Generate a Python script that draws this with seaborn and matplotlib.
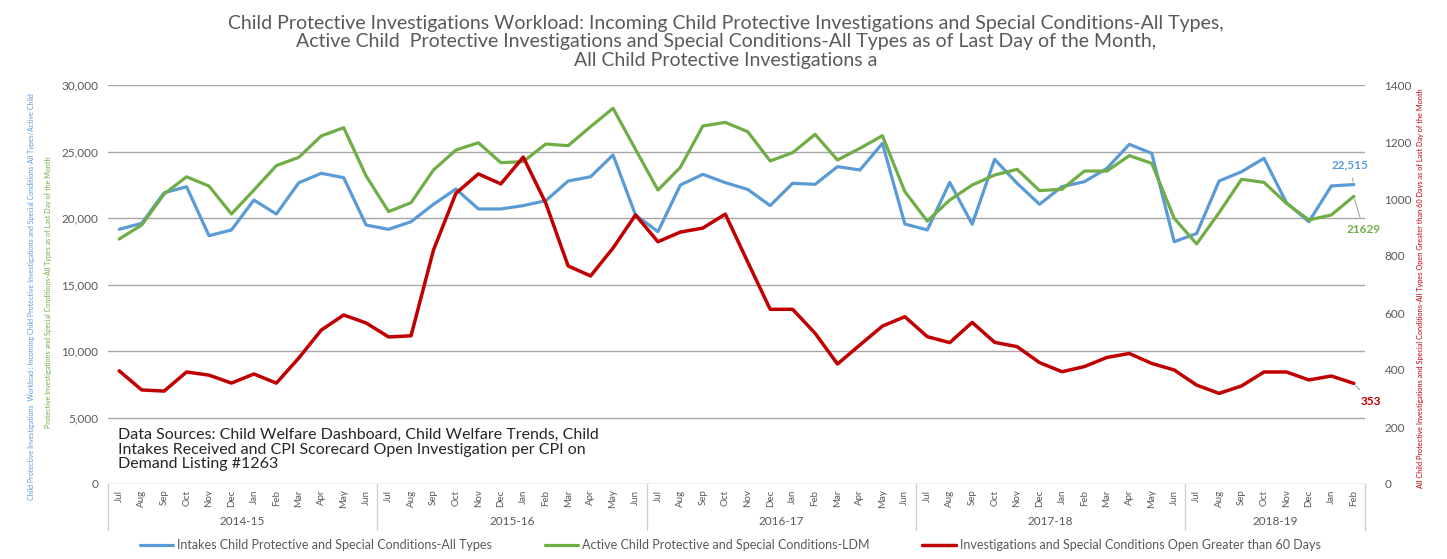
import numpy as np
import pandas as pd
import matplotlib
matplotlib.use("Agg")
import matplotlib.pyplot as plt
import matplotlib.transforms as mtransforms
from matplotlib.lines import Line2D
from matplotlib.ticker import FuncFormatter
import seaborn as sns

# ---- data ----
months = ["Jul", "Aug", "Sep", "Oct", "Nov", "Dec", "Jan", "Feb", "Mar", "Apr", "May", "Jun"]
month_labels = months * 4 + months[:8]
fiscal_years = ["2014-15", "2015-16", "2016-17", "2017-18", "2018-19"]
fy_sizes = [12, 12, 12, 12, 8]

intakes = [
    19150, 19600, 21900, 22350, 18670, 19100, 21350, 20300, 22650, 23360, 23030, 19470,
    19150, 19720, 21030, 22180, 20680, 20680, 20930, 21300, 22780, 23100, 24740, 20230,
    18970, 22480, 23280, 22660, 22150, 20930, 22610, 22530, 23860, 23610, 25610, 19550,
    19100, 22680, 19530, 24410, 22610, 21030, 22360, 22730, 23730, 25540, 24860, 18220,
    18830, 22780, 23480, 24490, 21150, 19720, 22410, 22515,
]
active = [
    18420, 19470, 21800, 23100, 22400, 20300, 22100, 23940, 24560, 26170, 26790, 23160,
    20480, 21150, 23610, 25110, 25660, 24160, 24240, 25560, 25440, 26870, 28250, 25160,
    22100, 23810, 26920, 27190, 26490, 24290, 24910, 26290, 24360, 25240, 26190, 21980,
    19770, 21350, 22480, 23230, 23660, 22060, 22160, 23530, 23530, 24690, 24110, 19980,
    18050, 20400, 22910, 22680, 21100, 19850, 20230, 21629,
]
over_60 = [
    397, 330, 326, 393, 382, 354, 386, 354, 442, 540, 593, 565,
    516, 520, 821, 1020, 1088, 1053, 1147, 986, 765, 730, 828, 944,
    850, 884, 898, 947, 779, 613, 613, 529, 421, 488, 554, 587,
    517, 496, 567, 497, 482, 426, 394, 412, 444, 458, 423, 400,
    347, 318, 344, 393, 393, 365, 379, 353,
]

df = pd.DataFrame({
    "idx": np.arange(len(month_labels)),
    "month": month_labels,
    "intakes": intakes,
    "active": active,
    "over_60": over_60,
})

BLUE = "#5B9BD5"
GREEN = "#70AD47"
RED = "#C00000"
GREY = "#595959"

sns.set_theme(style="white")
plt.rcParams["font.family"] = ["Lato", "DejaVu Sans"]

fig = plt.figure(figsize=(14.47, 5.59), dpi=100)
ax = fig.add_axes([108 / 1447, 75 / 559, 1257 / 1447, 399 / 559])
ax2 = ax.twinx()

sns.lineplot(data=df, x="idx", y="intakes", ax=ax, color=BLUE, lw=2.3)
sns.lineplot(data=df, x="idx", y="active", ax=ax, color=GREEN, lw=2.3)
sns.lineplot(data=df, x="idx", y="over_60", ax=ax2, color=RED, lw=2.5)

ax.set_xlim(-0.5, len(month_labels) - 0.5)
ax.set_ylim(0, 30000)
ax2.set_ylim(0, 1400)
ax.set_yticks(range(0, 30001, 5000))
ax2.set_yticks(range(0, 1401, 200))
ax.yaxis.set_major_formatter(FuncFormatter(lambda v, p: f"{int(v):,}"))
ax.grid(axis="y", color="#a6a6a6", lw=1)
ax.grid(axis="x", visible=False)
ax2.grid(False)
ax.set_axisbelow(True)
for a in (ax, ax2):
    for s in a.spines.values():
        s.set_visible(False)
    a.set_xlabel("")
    a.set_ylabel("")

ax.set_xticks(df["idx"])
ax.set_xticklabels(month_labels, rotation=90, fontsize=7, color=GREY)
ax.tick_params(axis="x", length=0, pad=4)
ax.tick_params(axis="y", length=0, pad=7, labelsize=8.5, labelcolor=GREY)
ax2.tick_params(axis="y", length=0, pad=14, labelsize=8.5, labelcolor=GREY)

# fiscal year groups under the month labels
trans = mtransforms.blended_transform_factory(ax.transData, ax.transAxes)
start = -0.5
ax.plot([start, start], [0, -0.115], transform=trans, color="#d0d0d0", lw=1, clip_on=False)
for fy, n in zip(fiscal_years, fy_sizes):
    end = start + n
    ax.text((start + end) / 2, -0.093, fy, transform=trans, ha="center", va="center",
            fontsize=8.5, color=GREY)
    ax.plot([end, end], [0, -0.115], transform=trans, color="#d0d0d0", lw=1, clip_on=False)
    start = end

# end-point data labels
last = len(month_labels) - 1
ax.annotate("22,515", xy=(last, intakes[-1]), xytext=(-3, 14), textcoords="offset points",
            ha="center", va="center", fontsize=8.5, fontweight="bold", color=BLUE,
            arrowprops=dict(arrowstyle="-", color="#a6a6a6", lw=0.8, shrinkA=3, shrinkB=2))
ax.annotate("21629", xy=(last, active[-1]), xytext=(7, -24), textcoords="offset points",
            ha="center", va="center", fontsize=8.5, fontweight="bold", color=GREEN,
            arrowprops=dict(arrowstyle="-", color="#a6a6a6", lw=0.8, shrinkA=3, shrinkB=2))
ax2.annotate("353", xy=(last, over_60[-1]), xytext=(12, -13), textcoords="offset points",
             ha="center", va="center", fontsize=8.5, fontweight="bold", color=RED,
             arrowprops=dict(arrowstyle="-", color="#a6a6a6", lw=0.8, shrinkA=3, shrinkB=2))

ax.text(0.008, 0.14,
        "Data Sources: Child Welfare Dashboard, Child Welfare Trends, Child\n"
        "Intakes Received and CPI Scorecard Open Investigation per CPI on\n"
        "Demand Listing #1263",
        transform=ax.transAxes, ha="left", va="top", fontsize=11.5, color="#262626",
        linespacing=1.05)

# title
fig.text(0.5017, 1 - 42 / 559,
         "Child Protective Investigations Workload: Incoming Child Protective Investigations and Special Conditions-All Types,\n"
         "Active Child  Protective Investigations and Special Conditions-All Types as of Last Day of the Month,\n"
         "All Child Protective Investigations a",
         ha="center", va="center", fontsize=14, color=GREY, linespacing=1.08)

# axis titles
fig.text(32 / 1447, 1 - 297 / 559,
         "Child Protective Investigations  Workload : Incoming Child Protective Investigations and Special Conditions-All Types/Active Child",
         rotation=90, ha="center", va="center", fontsize=5.1, color=BLUE)
fig.text(49 / 1447, 1 - 292 / 559,
         "Protective Investigations and Special Conditions-All Types as of Last Day of the Month",
         rotation=90, ha="center", va="center", fontsize=5.1, color=GREEN)
fig.text(1421 / 1447, 1 - 288 / 559,
         "All Child Protective Investigations and Special Conditions-All Types Open Greater than 60 Days as of Last Day of the Month",
         rotation=90, ha="center", va="center", fontsize=5.3, color=RED)

handles = [
    Line2D([], [], color=BLUE, lw=2.3),
    Line2D([], [], color=GREEN, lw=2.3),
    Line2D([], [], color=RED, lw=2.5),
]
labels = [
    "Intakes Child Protective and Special Conditions-All Types",
    "Active Child Protective and Special Conditions-LDM",
    "Investigations and Special Conditions Open Greater than 60 Days",
]
fig.legend(handles, labels, loc="center", bbox_to_anchor=(0.5045, 1 - 545 / 559), ncol=3,
           frameon=False, fontsize=9, handlelength=2.7, columnspacing=4.2, labelcolor=GREY,
           handletextpad=0.3)

fig.savefig("out.png", dpi=100)
